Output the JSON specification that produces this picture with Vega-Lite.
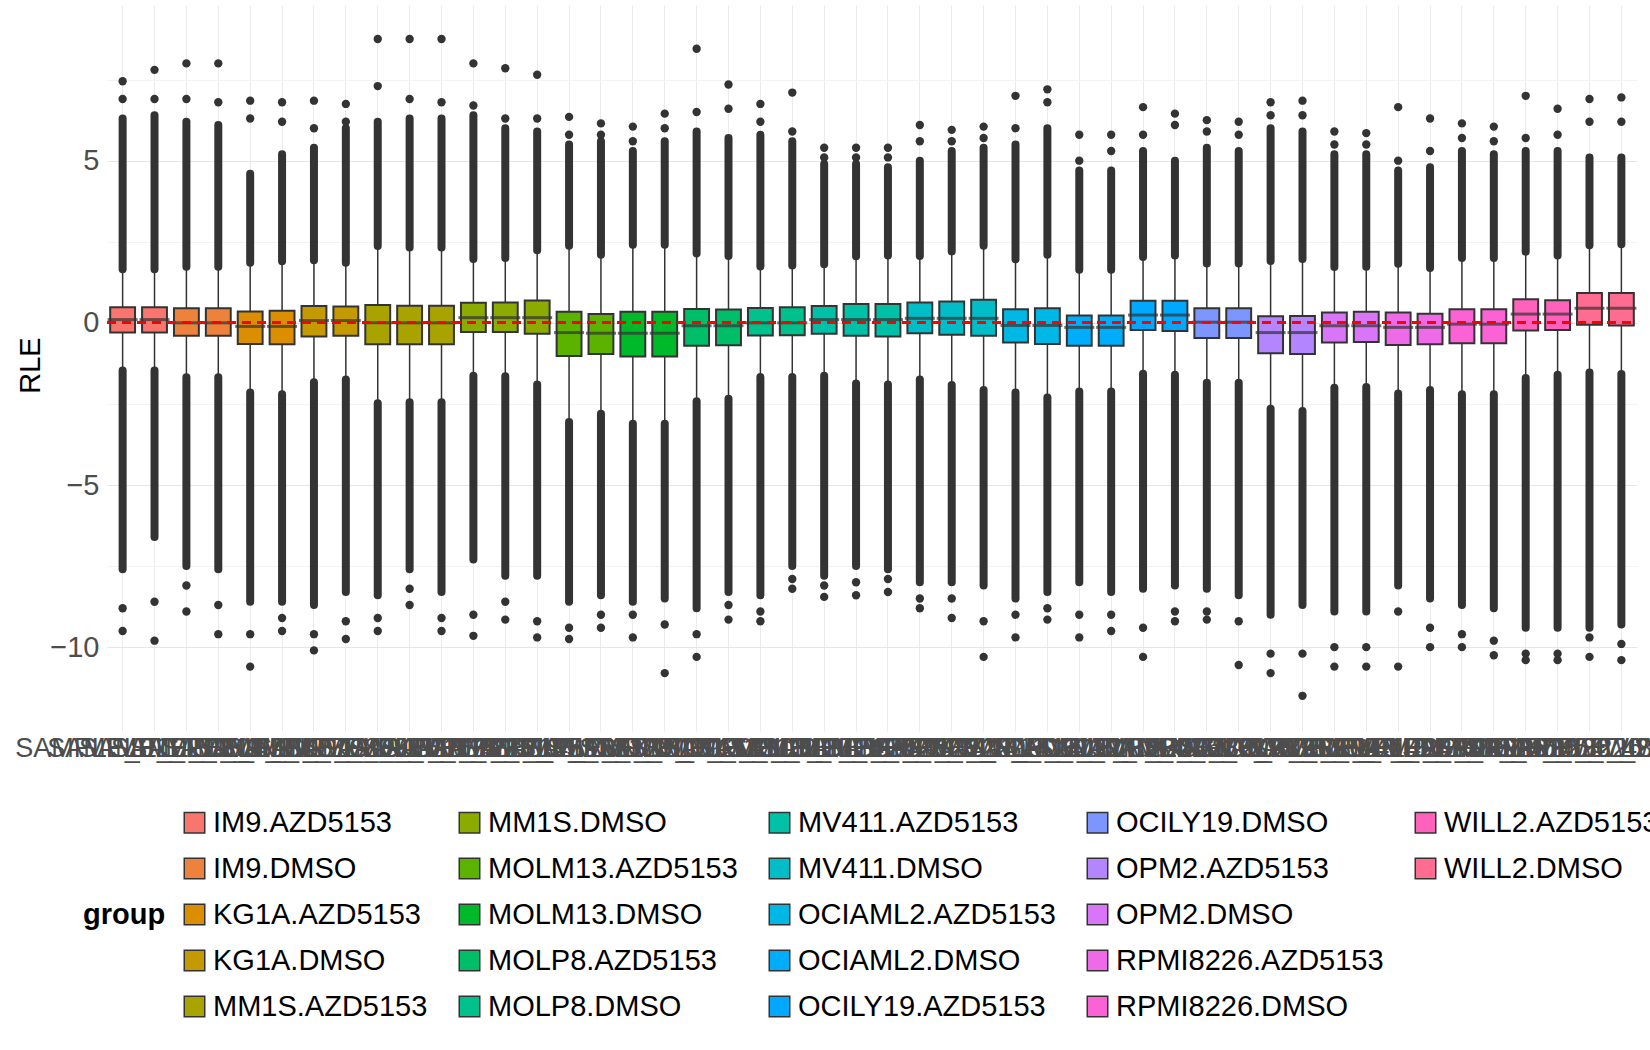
{
"$schema":"https://vega.github.io/schema/vega-lite/v6.json",
"width":1530,"height":720,
"padding":{"left":14,"top":5,"right":5,"bottom":5},
"background":"white",
"config":{"view":{"stroke":null},"font":"Liberation Sans"},
"datasets":{"boxes":[
{"s":"SAMPLE_01_IM9","g":"IM9.AZD5153","q1":-0.30,"med":0.10,"q3":0.48,"wlo":-1.47,"whi":1.65,"top":7.45,"t2":6.9,"bot":-9.5,"b2":-8.8,"dhi":6.3,"dlo":-7.6},
{"s":"SAMPLE_02_IM9","g":"IM9.AZD5153","q1":-0.30,"med":0.10,"q3":0.48,"wlo":-1.47,"whi":1.65,"top":7.8,"t2":6.9,"bot":-9.8,"b2":-8.6,"dhi":6.4,"dlo":-6.6},
{"s":"SAMPLE_03_IM9","g":"IM9.DMSO","q1":-0.40,"med":0.0,"q3":0.45,"wlo":-1.68,"whi":1.73,"top":8.0,"t2":6.9,"bot":-8.9,"b2":-8.1,"dhi":6.2,"dlo":-7.5},
{"s":"SAMPLE_04_IM9","g":"IM9.DMSO","q1":-0.40,"med":0.0,"q3":0.45,"wlo":-1.68,"whi":1.73,"top":8.0,"t2":6.8,"bot":-9.6,"b2":-8.7,"dhi":6.1,"dlo":-7.6},
{"s":"SAMPLE_05_KG1A","g":"KG1A.AZD5153","q1":-0.65,"med":-0.11,"q3":0.35,"wlo":-2.15,"whi":1.85,"top":6.85,"t2":6.3,"bot":-10.6,"b2":-9.6,"dhi":4.6,"dlo":-8.6},
{"s":"SAMPLE_06_KG1A","g":"KG1A.AZD5153","q1":-0.66,"med":-0.11,"q3":0.37,"wlo":-2.2,"whi":1.9,"top":6.8,"t2":6.2,"bot":-9.5,"b2":-9.1,"dhi":5.2,"dlo":-8.6},
{"s":"SAMPLE_07_KG1A","g":"KG1A.DMSO","q1":-0.42,"med":0.07,"q3":0.52,"wlo":-1.83,"whi":1.93,"top":6.85,"t2":6.0,"bot":-10.1,"b2":-9.6,"dhi":5.4,"dlo":-8.7},
{"s":"SAMPLE_08_KG1A","g":"KG1A.DMSO","q1":-0.40,"med":0.07,"q3":0.50,"wlo":-1.75,"whi":1.85,"top":6.75,"t2":6.2,"bot":-9.75,"b2":-9.2,"dhi":6.0,"dlo":-8.3},
{"s":"SAMPLE_09_MM1S","g":"MM1S.AZD5153","q1":-0.66,"med":0.0,"q3":0.55,"wlo":-2.48,"whi":2.37,"top":8.75,"t2":7.3,"bot":-9.5,"b2":-9.1,"dhi":6.2,"dlo":-8.4},
{"s":"SAMPLE_10_MM1S","g":"MM1S.AZD5153","q1":-0.66,"med":0.0,"q3":0.53,"wlo":-2.45,"whi":2.32,"top":8.75,"t2":6.9,"bot":-8.7,"b2":-8.2,"dhi":6.3,"dlo":-7.6},
{"s":"SAMPLE_11_MM1S","g":"MM1S.AZD5153","q1":-0.66,"med":0.0,"q3":0.53,"wlo":-2.45,"whi":2.32,"top":8.75,"t2":6.8,"bot":-9.5,"b2":-9.1,"dhi":6.3,"dlo":-8.3},
{"s":"SAMPLE_12_MM1S","g":"MM1S.DMSO","q1":-0.28,"med":0.16,"q3":0.62,"wlo":-1.63,"whi":1.97,"top":8.0,"t2":6.7,"bot":-9.65,"b2":-9.0,"dhi":6.4,"dlo":-7.3},
{"s":"SAMPLE_13_MM1S","g":"MM1S.DMSO","q1":-0.28,"med":0.16,"q3":0.63,"wlo":-1.65,"whi":2.0,"top":7.85,"t2":6.3,"bot":-9.15,"b2":-8.6,"dhi":6.0,"dlo":-7.8},
{"s":"SAMPLE_14_MM1S","g":"MM1S.DMSO","q1":-0.34,"med":0.16,"q3":0.69,"wlo":-1.9,"whi":2.24,"top":7.65,"t2":6.3,"bot":-9.7,"b2":-9.2,"dhi":5.9,"dlo":-7.8},
{"s":"SAMPLE_15_MOLM13","g":"MOLM13.AZD5153","q1":-1.02,"med":-0.30,"q3":0.34,"wlo":-3.06,"whi":2.38,"top":6.35,"t2":5.8,"bot":-9.75,"b2":-9.4,"dhi":5.5,"dlo":-8.6},
{"s":"SAMPLE_16_MOLM13","g":"MOLM13.AZD5153","q1":-0.96,"med":-0.32,"q3":0.27,"wlo":-2.8,"whi":2.1,"top":6.15,"t2":5.8,"bot":-9.4,"b2":-9.0,"dhi":5.6,"dlo":-8.4},
{"s":"SAMPLE_17_MOLM13","g":"MOLM13.DMSO","q1":-1.04,"med":-0.32,"q3":0.34,"wlo":-3.11,"whi":2.41,"top":6.05,"t2":5.6,"bot":-9.7,"b2":-9.0,"dhi":5.3,"dlo":-8.6},
{"s":"SAMPLE_18_MOLM13","g":"MOLM13.DMSO","q1":-1.04,"med":-0.32,"q3":0.34,"wlo":-3.11,"whi":2.41,"top":6.45,"t2":6.0,"bot":-10.8,"b2":-9.3,"dhi":5.6,"dlo":-8.5},
{"s":"SAMPLE_19_MOLP8","g":"MOLP8.AZD5153","q1":-0.71,"med":-0.09,"q3":0.43,"wlo":-2.42,"whi":2.14,"top":8.45,"t2":6.5,"bot":-10.3,"b2":-9.6,"dhi":5.9,"dlo":-8.8},
{"s":"SAMPLE_20_MOLP8","g":"MOLP8.AZD5153","q1":-0.69,"med":-0.09,"q3":0.41,"wlo":-2.34,"whi":2.06,"top":7.35,"t2":6.6,"bot":-9.15,"b2":-8.7,"dhi":5.7,"dlo":-8.3},
{"s":"SAMPLE_21_MOLP8","g":"MOLP8.DMSO","q1":-0.39,"med":0.0,"q3":0.46,"wlo":-1.67,"whi":1.74,"top":6.75,"t2":6.2,"bot":-9.2,"b2":-8.9,"dhi":5.8,"dlo":-8.4},
{"s":"SAMPLE_22_MOLP8","g":"MOLP8.DMSO","q1":-0.38,"med":0.0,"q3":0.48,"wlo":-1.67,"whi":1.77,"top":7.1,"t2":5.9,"bot":-8.2,"b2":-7.9,"dhi":5.6,"dlo":-7.5},
{"s":"SAMPLE_23_MV411","g":"MV411.AZD5153","q1":-0.34,"med":0.10,"q3":0.52,"wlo":-1.63,"whi":1.81,"top":5.4,"t2":5.1,"bot":-8.45,"b2":-8.1,"dhi":4.9,"dlo":-7.8},
{"s":"SAMPLE_24_MV411","g":"MV411.AZD5153","q1":-0.40,"med":0.10,"q3":0.58,"wlo":-1.87,"whi":2.05,"top":5.4,"t2":5.1,"bot":-8.4,"b2":-8.0,"dhi":4.9,"dlo":-7.5},
{"s":"SAMPLE_25_MV411","g":"MV411.AZD5153","q1":-0.42,"med":0.10,"q3":0.58,"wlo":-1.9,"whi":2.08,"top":5.4,"t2":5.1,"bot":-8.3,"b2":-7.9,"dhi":4.8,"dlo":-7.6},
{"s":"SAMPLE_26_MV411","g":"MV411.DMSO","q1":-0.32,"med":0.14,"q3":0.63,"wlo":-1.75,"whi":2.06,"top":6.1,"t2":5.6,"bot":-8.8,"b2":-8.5,"dhi":5.0,"dlo":-8.0},
{"s":"SAMPLE_27_MV411","g":"MV411.DMSO","q1":-0.37,"med":0.14,"q3":0.66,"wlo":-1.92,"whi":2.2,"top":5.95,"t2":5.6,"bot":-9.1,"b2":-8.5,"dhi":5.3,"dlo":-8.0},
{"s":"SAMPLE_28_MV411","g":"MV411.DMSO","q1":-0.40,"med":0.14,"q3":0.71,"wlo":-2.07,"whi":2.38,"top":6.05,"t2":5.7,"bot":-10.3,"b2":-9.2,"dhi":5.4,"dlo":-8.1},
{"s":"SAMPLE_29_OCIAML2","g":"OCIAML2.AZD5153","q1":-0.61,"med":-0.08,"q3":0.42,"wlo":-2.15,"whi":1.96,"top":7.0,"t2":6.0,"bot":-9.7,"b2":-9.0,"dhi":5.5,"dlo":-8.5},
{"s":"SAMPLE_30_OCIAML2","g":"OCIAML2.AZD5153","q1":-0.65,"med":-0.08,"q3":0.45,"wlo":-2.3,"whi":2.1,"top":7.2,"t2":6.8,"bot":-9.15,"b2":-8.8,"dhi":6.0,"dlo":-8.3},
{"s":"SAMPLE_31_OCIAML2","g":"OCIAML2.DMSO","q1":-0.71,"med":-0.14,"q3":0.23,"wlo":-2.12,"whi":1.64,"top":5.8,"t2":5.0,"bot":-9.7,"b2":-9.0,"dhi":4.7,"dlo":-8.0},
{"s":"SAMPLE_32_OCIAML2","g":"OCIAML2.DMSO","q1":-0.71,"med":-0.14,"q3":0.23,"wlo":-2.12,"whi":1.64,"top":5.8,"t2":5.3,"bot":-9.5,"b2":-9.0,"dhi":4.7,"dlo":-8.3},
{"s":"SAMPLE_33_OCILY19","g":"OCILY19.AZD5153","q1":-0.22,"med":0.24,"q3":0.68,"wlo":-1.57,"whi":2.03,"top":6.65,"t2":5.8,"bot":-10.3,"b2":-9.4,"dhi":5.3,"dlo":-8.2},
{"s":"SAMPLE_34_OCILY19","g":"OCILY19.AZD5153","q1":-0.25,"med":0.24,"q3":0.68,"wlo":-1.6,"whi":2.08,"top":6.45,"t2":6.1,"bot":-9.2,"b2":-8.9,"dhi":5.0,"dlo":-8.1},
{"s":"SAMPLE_35_OCILY19","g":"OCILY19.DMSO","q1":-0.47,"med":0.02,"q3":0.45,"wlo":-1.85,"whi":1.83,"top":6.25,"t2":5.9,"bot":-9.15,"b2":-8.9,"dhi":5.4,"dlo":-8.2},
{"s":"SAMPLE_36_OCILY19","g":"OCILY19.DMSO","q1":-0.47,"med":0.02,"q3":0.45,"wlo":-1.85,"whi":1.83,"top":6.2,"t2":5.8,"bot":-10.55,"b2":-9.2,"dhi":5.3,"dlo":-8.4},
{"s":"SAMPLE_37_OPM2","g":"OPM2.AZD5153","q1":-0.94,"med":-0.30,"q3":0.20,"wlo":-2.65,"whi":1.91,"top":6.8,"t2":6.4,"bot":-10.8,"b2":-10.2,"dhi":6.0,"dlo":-9.0},
{"s":"SAMPLE_38_OPM2","g":"OPM2.AZD5153","q1":-0.96,"med":-0.30,"q3":0.21,"wlo":-2.72,"whi":1.97,"top":6.85,"t2":6.4,"bot":-11.5,"b2":-10.2,"dhi":5.9,"dlo":-8.7},
{"s":"SAMPLE_39_OPM2","g":"OPM2.DMSO","q1":-0.61,"med":-0.09,"q3":0.32,"wlo":-2.0,"whi":1.72,"top":5.9,"t2":5.5,"bot":-10.6,"b2":-10.0,"dhi":5.2,"dlo":-8.9},
{"s":"SAMPLE_40_OPM2","g":"OPM2.DMSO","q1":-0.59,"med":-0.09,"q3":0.34,"wlo":-1.98,"whi":1.73,"top":5.85,"t2":5.5,"bot":-10.6,"b2":-10.0,"dhi":5.2,"dlo":-8.9},
{"s":"SAMPLE_41_RPMI8226","g":"RPMI8226.AZD5153","q1":-0.68,"med":-0.14,"q3":0.32,"wlo":-2.18,"whi":1.82,"top":6.65,"t2":5.0,"bot":-10.6,"b2":-8.9,"dhi":4.7,"dlo":-8.1},
{"s":"SAMPLE_42_RPMI8226","g":"RPMI8226.AZD5153","q1":-0.66,"med":-0.14,"q3":0.28,"wlo":-2.07,"whi":1.69,"top":6.3,"t2":5.3,"bot":-10.0,"b2":-9.4,"dhi":4.8,"dlo":-8.5},
{"s":"SAMPLE_43_RPMI8226","g":"RPMI8226.DMSO","q1":-0.63,"med":-0.04,"q3":0.42,"wlo":-2.2,"whi":2.0,"top":6.15,"t2":5.7,"bot":-10.0,"b2":-9.6,"dhi":5.3,"dlo":-8.7},
{"s":"SAMPLE_44_RPMI8226","g":"RPMI8226.DMSO","q1":-0.63,"med":-0.04,"q3":0.42,"wlo":-2.2,"whi":2.0,"top":6.05,"t2":5.6,"bot":-10.25,"b2":-9.8,"dhi":5.2,"dlo":-8.8},
{"s":"SAMPLE_45_WILL2","g":"WILL2.AZD5153","q1":-0.24,"med":0.27,"q3":0.73,"wlo":-1.7,"whi":2.19,"top":7.0,"t2":5.7,"bot":-10.4,"b2":-10.2,"dhi":5.3,"dlo":-9.4},
{"s":"SAMPLE_46_WILL2","g":"WILL2.AZD5153","q1":-0.22,"med":0.27,"q3":0.70,"wlo":-1.6,"whi":2.08,"top":6.6,"t2":5.8,"bot":-10.4,"b2":-10.2,"dhi":5.3,"dlo":-9.4},
{"s":"SAMPLE_47_WILL2","g":"WILL2.DMSO","q1":-0.06,"med":0.45,"q3":0.92,"wlo":-1.53,"whi":2.39,"top":6.9,"t2":6.2,"bot":-10.3,"b2":-9.7,"dhi":5.1,"dlo":-9.4},
{"s":"SAMPLE_48_WILL2","g":"WILL2.DMSO","q1":-0.08,"med":0.45,"q3":0.92,"wlo":-1.58,"whi":2.42,"top":6.95,"t2":6.2,"bot":-10.4,"b2":-9.9,"dhi":5.1,"dlo":-9.3}
]},
"data":{"name":"boxes"},
"encoding":{"x":{"field":"s","type":"nominal","sort":null,"title":null,
  "scale":{"paddingInner":0.22,"paddingOuter":0.1},
  "axis":{"labelAngle":0,"labelOverlap":false,"labelFontSize":27,"labelColor":"#4d4d4d","labelPadding":4,"labelLimit":500,"ticks":true,"tickColor":"#ebebeb","tickSize":6,"domain":false,"grid":true,"gridColor":"#ebebeb","labelBound":false}}},
"layer":[
{"mark":{"type":"rule","color":"#333333","strokeWidth":1.5},
 "encoding":{"y":{"field":"wlo","type":"quantitative","title":"RLE","scale":{"domain":[-12.4,9.8],"nice":false,"zero":false},
   "axis":{"values":[-10,-7.5,-5,-2.5,0,2.5,5,7.5],"labelExpr":"datum.value % 5 === 0 ? datum.label : ''","labelFontSize":29,"labelColor":"#4d4d4d","titleFontSize":29,"titleFontWeight":"normal","titleColor":"#000000","ticks":false,"domain":false,"labelPadding":8,"gridColor":{"condition":{"test":"datum.value % 5 !== 0","value":"#f3f3f3"},"value":"#e6e6e6"}}},
  "y2":{"field":"whi"}}},
{"mark":{"type":"rule","color":"#333333","strokeWidth":8,"strokeCap":"round"},
 "encoding":{"y":{"field":"whi","type":"quantitative"},"y2":{"field":"dhi"}}},
{"mark":{"type":"rule","color":"#333333","strokeWidth":8,"strokeCap":"round"},
 "encoding":{"y":{"field":"wlo","type":"quantitative"},"y2":{"field":"dlo"}}},
{"transform":[{"fold":["top","t2","bot","b2"],"as":["k","v"]}],
 "mark":{"type":"circle","color":"#333333","opacity":1,"size":70},
 "encoding":{"y":{"field":"v","type":"quantitative"}}},
{"mark":{"type":"bar","stroke":"#333333","strokeWidth":2,"width":{"band":1}},
 "encoding":{"y":{"field":"q1","type":"quantitative"},"y2":{"field":"q3"},
  "color":{"field":"g","type":"nominal","title":"group",
   "scale":{"domain":["IM9.AZD5153","MM1S.DMSO","MV411.AZD5153","OCILY19.DMSO","WILL2.AZD5153",
     "IM9.DMSO","MOLM13.AZD5153","MV411.DMSO","OPM2.AZD5153","WILL2.DMSO",
     "KG1A.AZD5153","MOLM13.DMSO","OCIAML2.AZD5153","OPM2.DMSO","_a",
     "KG1A.DMSO","MOLP8.AZD5153","OCIAML2.DMSO","RPMI8226.AZD5153","_b",
     "MM1S.AZD5153","MOLP8.DMSO","OCILY19.AZD5153","RPMI8226.DMSO"],
    "range":["#F8766D","#8CAB00","#00C0A8","#7D96FF","#FF62BC",
     "#EC823C","#5BB300","#00BDC8","#B385FF","#FF6C91",
     "#DB8E00","#00B92A","#00B8E5","#D975F7","#ffffff",
     "#C59A00","#00BE67","#00ADFA","#EE6AE9","#ffffff",
     "#A9A300","#00C18B","#00A9FF","#FA62D5"]},
   "legend":{"orient":"none","legendX":-24,"legendY":803,"direction":"horizontal","columns":5,"columnPadding":27,"rowPadding":16,"symbolType":"square","symbolSize":420,"symbolStrokeColor":"#333333","symbolStrokeWidth":1.5,"labelFontSize":29,"labelColor":"#000000","titleFontSize":29,"titleFontWeight":"bold","titleOrient":"left","titleAnchor":"middle","titlePadding":14,"labelLimit":400,"padding":0,
    "labelExpr":"indexof(datum.label,'_')===0 ? '' : datum.label",
    "encode":{"symbols":{"update":{"opacity":{"signal":"indexof(datum.value,'_')===0 ? 0 : 1"}}}}}}}},
{"mark":{"type":"tick","color":"#333333","thickness":3,"size":30},
 "encoding":{"y":{"field":"med","type":"quantitative"}}},
{"mark":{"type":"rule","color":"#ff0000","strokeWidth":2,"strokeDash":[9,6]},
 "encoding":{"y":{"datum":0},"x":{"value":0},"x2":{"value":1530}}}
]
}
